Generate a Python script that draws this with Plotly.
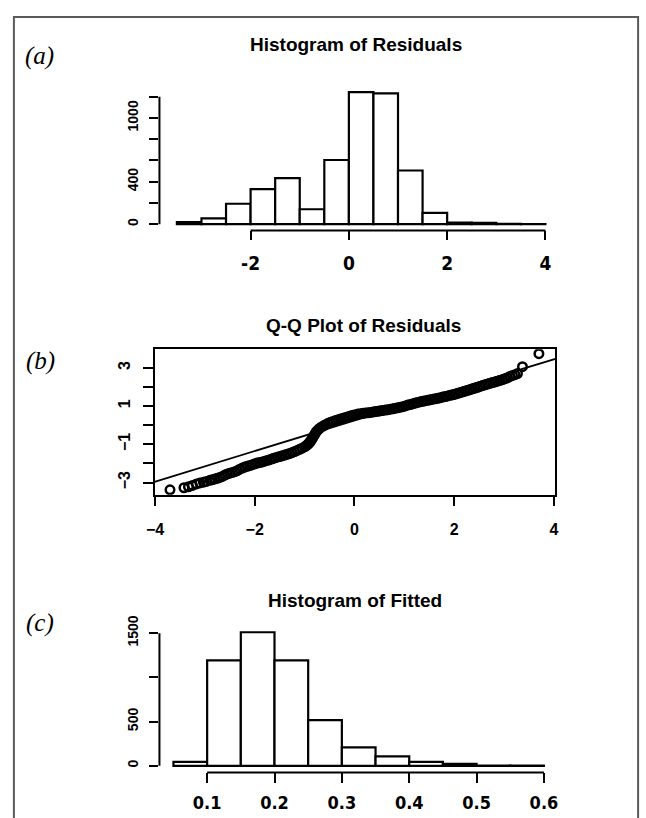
import plotly.graph_objects as go

# ---------------- data ----------------
# (a) Histogram of Residuals
resid_bin_left = [-3.5, -3.0, -2.5, -2.0, -1.5, -1.0, -0.5, 0.0, 0.5, 1.0, 1.5, 2.0, 2.5, 3.0, 3.5]
resid_counts = [20, 55, 192, 330, 433, 140, 604, 1244, 1232, 505, 107, 15, 12, 2, 1]
resid_bin_width = 0.5
resid_yticks = [0, 200, 400, 600, 800, 1000, 1200]
resid_yticktext = ["0", "", "400", "", "", "1000", ""]
resid_xticks = [-2, 0, 2, 4]
resid_xticktext = ["-2", "0", "2", "4"]

# (b) Q-Q plot of residuals (theoretical quantile, sample quantile)
qq_theoretical = [
    -3.70, -3.42, -3.33, -3.25, -3.17, -3.10, -3.03, -2.97,
    -2.90, -2.85, -2.80, -2.75, -2.70, -2.65, -2.60, -2.55, -2.50, -2.45,
    -2.40, -2.35, -2.30, -2.25, -2.20, -2.15, -2.10, -2.05, -2.00, -1.95,
    -1.90, -1.85, -1.80, -1.75, -1.70, -1.65, -1.60, -1.55, -1.50, -1.45,
    -1.40, -1.35, -1.30, -1.25, -1.20, -1.15, -1.10, -1.05, -1.00, -0.97,
    -0.94, -0.92, -0.90, -0.88, -0.86, -0.84, -0.82, -0.80, -0.78, -0.76,
    -0.73, -0.70, -0.66, -0.62, -0.58, -0.53, -0.48, -0.43, -0.38, -0.33,
    -0.28, -0.23, -0.18, -0.13, -0.08, -0.03, 0.02, 0.07, 0.12, 0.17,
    0.22, 0.27, 0.32, 0.37, 0.42, 0.47, 0.52, 0.57, 0.62, 0.67,
    0.72, 0.77, 0.82, 0.87, 0.92, 0.97, 1.02, 1.07, 1.12, 1.17,
    1.22, 1.27, 1.32, 1.37, 1.42, 1.47, 1.52, 1.57, 1.62, 1.67,
    1.72, 1.77, 1.82, 1.87, 1.92, 1.97, 2.02, 2.07, 2.12, 2.17,
    2.22, 2.27, 2.32, 2.37, 2.42, 2.47, 2.52, 2.57, 2.62, 2.67,
    2.72, 2.77, 2.82, 2.87, 2.92, 2.97, 3.02, 3.07, 3.12, 3.17,
    3.22, 3.27, 3.37, 3.70,
]
qq_sample = [
    -3.38, -3.27, -3.22, -3.15, -3.07, -3.02, -2.98, -2.94,
    -2.88, -2.85, -2.81, -2.78, -2.73, -2.68, -2.61, -2.55, -2.51, -2.47,
    -2.43, -2.38, -2.30, -2.24, -2.19, -2.15, -2.11, -2.07, -2.02, -1.98,
    -1.95, -1.92, -1.88, -1.84, -1.80, -1.76, -1.71, -1.67, -1.64, -1.60,
    -1.56, -1.52, -1.48, -1.43, -1.38, -1.32, -1.26, -1.20, -1.13, -1.08,
    -1.02, -0.96, -0.90, -0.83, -0.75, -0.67, -0.58, -0.49, -0.40, -0.32,
    -0.24, -0.17, -0.09, -0.03, 0.03, 0.10, 0.15, 0.20, 0.24, 0.28,
    0.32, 0.36, 0.40, 0.44, 0.48, 0.52, 0.55, 0.58, 0.60, 0.62,
    0.64, 0.65, 0.67, 0.69, 0.71, 0.73, 0.75, 0.77, 0.79, 0.81,
    0.84, 0.86, 0.89, 0.91, 0.94, 0.97, 1.01, 1.05, 1.08, 1.12,
    1.16, 1.19, 1.22, 1.25, 1.28, 1.30, 1.33, 1.36, 1.38, 1.41,
    1.44, 1.47, 1.50, 1.53, 1.56, 1.59, 1.62, 1.66, 1.70, 1.74,
    1.78, 1.82, 1.86, 1.90, 1.94, 1.98, 2.03, 2.07, 2.11, 2.15,
    2.19, 2.23, 2.26, 2.30, 2.34, 2.38, 2.43, 2.48, 2.55, 2.60,
    2.64, 2.70, 3.06, 3.74,
]
qqline_intercept = 0.25
qqline_slope = 0.80
qq_xticks = [-4, -2, 0, 2, 4]
qq_xticktext = ["\u22124", "\u22122", "0", "2", "4"]
qq_yticks = [-3, -2, -1, 0, 1, 2, 3]
qq_yticktext = ["\u22123", "", "\u22121", "", "1", "", "3"]

# (c) Histogram of Fitted
fitted_bin_left = [0.05, 0.10, 0.15, 0.20, 0.25, 0.30, 0.35, 0.40, 0.45, 0.50, 0.55]
fitted_counts = [45, 1192, 1510, 1192, 516, 207, 106, 43, 22, 3, 1]
fitted_bin_width = 0.05
fitted_yticks = [0, 500, 1000, 1500]
fitted_yticktext = ["0", "500", "", "1500"]
fitted_xticks = [0.1, 0.2, 0.3, 0.4, 0.5, 0.6]
fitted_xticktext = ["0.1", "0.2", "0.3", "0.4", "0.5", "0.6"]

titles = ["Histogram of Residuals", "Q-Q Plot of Residuals", "Histogram of Fitted"]
panel_labels = ["(a)", "(b)", "(c)"]

# ---------------- layout helpers ----------------
W, H = 646, 818
def px(x):
    return x / W
def py(y):
    return 1 - y / H

SANS = "Liberation Sans, Arial, Helvetica, sans-serif"
NARROW = "Liberation Sans Narrow, Arial Narrow, DejaVu Sans Condensed, Liberation Sans, sans-serif"
SERIF = "Liberation Serif, Times New Roman, serif"

bar_style = dict(color="white", line=dict(color="black", width=2.2))

fig = go.Figure()

fig.add_trace(go.Bar(
    x=[l + resid_bin_width / 2 for l in resid_bin_left], y=resid_counts,
    width=resid_bin_width, marker=bar_style, xaxis="x", yaxis="y",
    hoverinfo="skip"))

fig.add_trace(go.Scatter(
    x=qq_theoretical, y=qq_sample, mode="markers", xaxis="x2", yaxis="y2",
    marker=dict(symbol="circle-open", size=8.5, color="black", line=dict(width=2.5, color="black")),
    hoverinfo="skip"))

qq_xrange = [-4.01, 4.03]
fig.add_trace(go.Scatter(
    x=qq_xrange, y=[qqline_intercept + qqline_slope * v for v in qq_xrange],
    mode="lines", line=dict(color="black", width=1.8), xaxis="x2", yaxis="y2",
    hoverinfo="skip"))

fig.add_trace(go.Bar(
    x=[l + fitted_bin_width / 2 for l in fitted_bin_left], y=fitted_counts,
    width=fitted_bin_width, marker=bar_style, xaxis="x3", yaxis="y3",
    hoverinfo="skip"))

common = dict(showgrid=False, zeroline=False, ticks="outside", tickwidth=2,
              tickcolor="black", fixedrange=True)

fig.update_layout(
    width=W, height=H, margin=dict(l=0, r=0, t=0, b=0),
    paper_bgcolor="white", plot_bgcolor="white", showlegend=False,
    bargap=0,
    # (a)
    xaxis=dict(domain=[px(153.3), px(561.6)], range=[-3.855, 4.3], anchor="y",
               tickvals=resid_xticks, ticktext=resid_xticktext, ticklen=9,
               showline=False, ticklabelstandoff=7,
               tickfont=dict(family=NARROW, size=19, color="black", weight="bold"), **common),
    yaxis=dict(domain=[py(221.7), py(75.6)], range=[-59.4, 1296.4], anchor="x",
               tickvals=resid_yticks, ticktext=resid_yticktext, tickangle=-90, ticklen=9,
               showline=False, ticklabelstandoff=6,
               tickfont=dict(family=SANS, size=14, color="black", weight="bold"), **common),
    # (b)
    xaxis2=dict(domain=[px(148.3), px(556.7)], range=qq_xrange, anchor="y2",
                tickvals=qq_xticks, ticktext=qq_xticktext, ticklen=9,
                showline=True, mirror=True, linecolor="black", linewidth=2,
                ticklabelstandoff=10,
                tickfont=dict(family=SANS, size=16, color="black", weight="bold"), **common),
    yaxis2=dict(domain=[py(490), py(342.3)], range=[-3.64, 3.97], anchor="x2",
                tickvals=qq_yticks, ticktext=qq_yticktext, tickangle=-90, ticklen=10,
                showline=True, mirror=True, linecolor="black", linewidth=2,
                ticklabelstandoff=6,
                tickfont=dict(family=SANS, size=16, color="black", weight="bold"), **common),
    # (c)
    xaxis3=dict(domain=[px(153.3), px(561)], range=[0.0292, 0.6232], anchor="y3",
                tickvals=fitted_xticks, ticktext=fitted_xticktext, ticklen=10,
                showline=False, ticklabelstandoff=4,
                tickfont=dict(family=NARROW, size=18, color="black", weight="bold"), **common),
    yaxis3=dict(domain=[py(771.7), py(624)], range=[-74.7, 1571], anchor="x3",
                tickvals=fitted_yticks, ticktext=fitted_yticktext, tickangle=-90, ticklen=9,
                showline=False, ticklabelstandoff=6,
                tickfont=dict(family=SANS, size=14, color="black", weight="bold"), **common),
)

shapes = []
# R-style axis lines spanning first to last tick
shapes.append(dict(type="line", xref="x domain", yref="y", x0=0, x1=0,
                   y0=resid_yticks[0], y1=resid_yticks[-1], line=dict(color="black", width=2)))
shapes.append(dict(type="line", xref="x", yref="y domain", x0=resid_xticks[0], x1=resid_xticks[-1],
                   y0=0, y1=0, line=dict(color="black", width=2)))
shapes.append(dict(type="line", xref="x3 domain", yref="y3", x0=0, x1=0,
                   y0=fitted_yticks[0], y1=fitted_yticks[-1], line=dict(color="black", width=2)))
shapes.append(dict(type="line", xref="x3", yref="y3 domain", x0=fitted_xticks[0], x1=fitted_xticks[-1],
                   y0=0, y1=0, line=dict(color="black", width=2)))
# outer frame
shapes.append(dict(type="rect", xref="paper", yref="paper", x0=px(5), x1=px(641),
                   y0=py(840), y1=py(5), line=dict(color="#5a5a5a", width=2)))
fig.update_layout(shapes=shapes)

annotations = []
title_pos = [(353.5, 33), (361, 318), (353, 597)]
for t, (x, y) in zip(titles, title_pos):
    annotations.append(dict(text=t, x=px(x), y=py(y), xref="paper", yref="paper",
                            showarrow=False, xanchor="center", yanchor="middle",
                            font=dict(family=SANS, size=19, color="black", weight="bold")))
label_pos = [(31, 45), (32, 354), (32, 620)]
for t, (x, y) in zip(panel_labels, label_pos):
    annotations.append(dict(text=t, x=px(x), y=py(y), xref="paper", yref="paper",
                            showarrow=False, xanchor="center", yanchor="middle",
                            font=dict(family=SERIF, size=25, color="black", style="italic")))
fig.update_layout(annotations=annotations)

fig.write_html(
    "out.html",
    config={"displayModeBar": False, "staticPlot": True},
    post_script=(
        "document.documentElement.style.margin='0';"
        "document.documentElement.style.overflow='hidden';"
        "document.body.style.margin='0';document.body.style.padding='0';"
        "document.body.style.overflow='hidden';"
        "var d=document.getElementById('{plot_id}');"
        "d.style.position='fixed';d.style.left='0px';d.style.top='0px';"
    ),
)
